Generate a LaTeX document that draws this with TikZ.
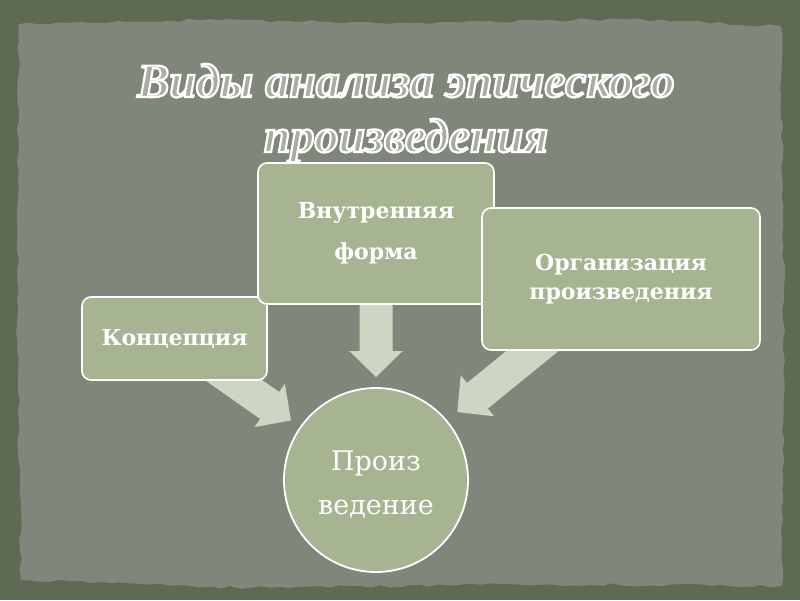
\documentclass[tikz,border=0pt]{standalone}
\usepackage{fontspec}
\setmainfont{DejaVu Serif}
\newfontfamily\titlefont{Liberation Serif}
\usetikzlibrary{calc,decorations.pathmorphing}
\definecolor{frameC}{HTML}{5E6A53}
\definecolor{panelC}{HTML}{81867A}
\definecolor{boxC}{HTML}{A6B492}
\definecolor{arrowC}{HTML}{CDD6C3}
\definecolor{titleFill}{HTML}{A9ADA1}
\pgfdeclarelayer{panel}
\pgfdeclarelayer{arrows}
\pgfsetlayers{panel,arrows,main}
\newcommand\blkarrow[2]{%
  \coordinate (B) at ($(#2)!26pt!(#1)$);
  \fill[arrowC] (#2) -- ($(B)!26.5pt!90:(#2)$) -- ($(B)!16.5pt!90:(#2)$)
    -- ($(#1)!16.5pt!90:(#2)$) -- ($(#1)!16.5pt!-90:(#2)$)
    -- ($(B)!16.5pt!-90:(#2)$) -- ($(B)!26.5pt!-90:(#2)$) -- cycle;}
\newcommand\outlinetext[1]{\special{pdf:literal direct 2 Tr 2.2 w 1 1 1 RG}#1\special{pdf:literal direct 0 Tr}}
\begin{document}
\begin{tikzpicture}[x=1pt,y=-1pt,
  boxstyle/.style={draw=white, line width=1.6pt, fill=boxC, rounded corners=9pt,
    text=white, font=\bfseries\fontsize{22}{26}\selectfont, align=center,
    inner sep=0pt},
  circstyle/.style={circle, draw=white, line width=1.8pt, fill=boxC,
    text=white, font=\fontsize{27}{44}\selectfont, align=center,
    minimum size=184pt, inner sep=0pt},
  titlestyle/.style={text=titleFill, align=center,
    font=\titlefont\bfseries\itshape\fontsize{48}{55}\selectfont}]
\useasboundingbox (0,0) rectangle (800,600);
\begin{pgfonlayer}{panel}
  \fill[frameC] (0,0) rectangle (800,600);
  \fill[panelC, decorate, decoration={random steps, segment length=10pt, amplitude=1.6pt}]
    (19,24) -- (200,20) -- (420,23) -- (620,19) -- (781,26) -- (784,300)
    -- (782,586) -- (500,584) -- (250,588) -- (21,580) -- (17,300) -- cycle;
\end{pgfonlayer}
\node[boxstyle, minimum width=185pt, minimum height=83pt] (konz) at (174.5,338.5) {Концепция};
\node[boxstyle, minimum width=236pt, minimum height=141pt,
  font=\bfseries\fontsize{22}{41}\selectfont] (inner) at (376,233.5) {Внутренняя\\форма};
\node[boxstyle, minimum width=278pt, minimum height=142pt,
  font=\bfseries\fontsize{22}{29}\selectfont] (org) at (621,279) {Организация\\произведения};
\node[circstyle] (circ) at (376,480) {\rule{0pt}{28pt}Произ\\ведение};
\begin{pgfonlayer}{arrows}
  \coordinate (t1) at ($(circ.north)!10pt!(inner.center)$);
  \coordinate (t2) at ($(circ.145)!11pt!(konz.center)$);
  \coordinate (t3) at ($(circ.40)!13pt!(org.center)$);
  \blkarrow{inner.center}{t1}
  \blkarrow{konz.center}{t2}
  \blkarrow{org.center}{t3}
\end{pgfonlayer}
\node[titlestyle] (title) at (406,113) {\outlinetext{Виды анализа эпического}\\\outlinetext{произведения}};
\end{tikzpicture}
\end{document}
